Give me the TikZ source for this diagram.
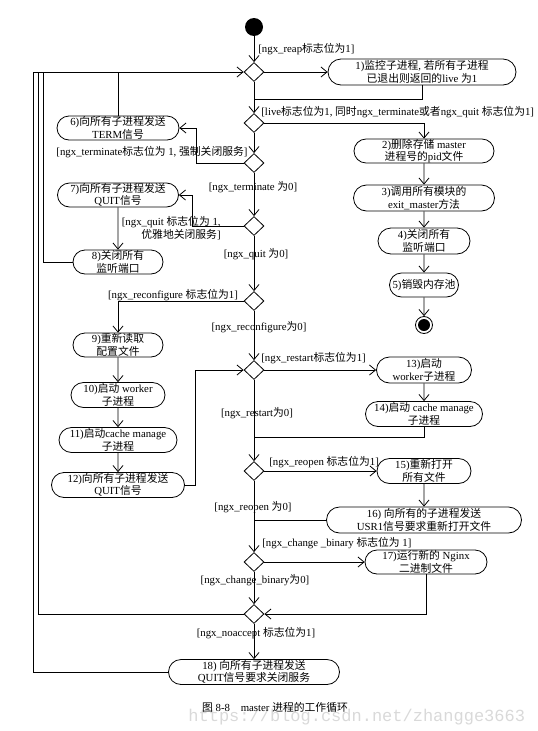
\documentclass[tikz,border=0pt]{standalone}
\usepackage{fontspec}
\setmainfont{Liberation Serif}
\newfontfamily\cjkfont{Noto Sans CJK SC}
\newfontfamily\wmfont{Liberation Mono}
\usetikzlibrary{shapes.misc,shapes.geometric,arrows.meta}
% automatic switch to the CJK font for ideographs
\XeTeXinterchartokenstate=1
\newXeTeXintercharclass\cjkcls
\newcount\ccnt
\ccnt="4E00
\loop\XeTeXcharclass\ccnt=\cjkcls\ifnum\ccnt<"9FFF\advance\ccnt by 1\repeat
\XeTeXinterchartoks 0 \cjkcls = {\cjkfont}
\XeTeXinterchartoks 4095 \cjkcls = {\cjkfont}
\XeTeXinterchartoks \cjkcls 0 = {\rmfamily}
\XeTeXinterchartoks \cjkcls 4095 = {\rmfamily}
\newcommand\fsz{\fontsize{10.8}{12.5}\selectfont}
\tikzset{
  act/.style={draw, rounded rectangle, inner sep=0pt, align=center, font=\fsz},
  dec/.style={draw, diamond, minimum width=20pt, minimum height=19pt, inner sep=0pt},
  lbl/.style={inner sep=0pt, font=\fsz},
  startnode/.style={circle, fill=black, minimum size=18pt, inner sep=0pt},
  endnode/.style={circle, draw, minimum size=17pt, inner sep=0pt,
    path picture={\fill (path picture bounding box.center) circle (6pt);}},
}
\begin{document}
\begin{tikzpicture}[x=1pt,y=-1pt, line width=0.8pt, >={Straight Barb[length=6pt,width=10pt]}]
\useasboundingbox (0,0) rectangle (538,731);
% main column
\node[startnode] (start) at (254,27) {};
\node[dec] (d1) at (254,72) {};
\node[dec] (d2) at (254,123) {};
\node[dec] (d3) at (254,163) {};
\node[dec] (d4) at (254,226) {};
\node[dec] (d5) at (254,301) {};
\node[dec] (d6) at (254,370) {};
\node[dec] (d7) at (254,471) {};
\node[dec] (d8) at (254,562) {};
\node[dec] (d9) at (254,614) {};
% right column
\node[act, minimum width=188pt, minimum height=26pt] (b1) at (422,72) {1)监控子进程, 若所有子进程\\已退出则返回的live 为1};
\node[act, minimum width=140pt, minimum height=23pt] (b2) at (424,151) {2)删除存储 master\\进程号的pid文件};
\node[act, minimum width=141pt, minimum height=26pt] (b3) at (424,198) {3)调用所有模块的\\exit\_master方法};
\node[act, minimum width=92pt, minimum height=26pt] (b4) at (424,241) {4)关闭所有\\监听端口};
\node[act, minimum width=69pt, minimum height=24pt] (b5) at (424,285) {5)销毁内存池};
\node[endnode] (end) at (424,325) {};
% left column
\node[act, minimum width=122pt, minimum height=24pt] (b6) at (118,128) {6)向所有子进程发送\\TERM信号};
\node[act, minimum width=121pt, minimum height=24pt] (b7) at (118,195) {7)向所有子进程发送\\QUIT信号};
\node[act, minimum width=90pt, minimum height=24pt] (b8) at (118,262) {8)关闭所有\\监听端口};
\node[act, minimum width=90pt, minimum height=24pt] (b9) at (118,345) {9)重新读取\\配置文件};
\node[act, minimum width=94pt, minimum height=25pt] (b10) at (118,395) {10)启动 worker\\子进程};
\node[act, minimum width=118pt, minimum height=25pt] (b11) at (118,440) {11)启动cache manage\\子进程};
\node[act, minimum width=133pt, minimum height=25pt] (b12) at (118,485) {12)向所有子进程发送\\QUIT信号};
% lower right
\node[act, minimum width=95pt, minimum height=26pt] (b13) at (424,370) {13)启动\\worker子进程};
\node[act, minimum width=117pt, minimum height=25pt] (b14) at (424,414) {14)启动 cache manage\\子进程};
\node[act, minimum width=94pt, minimum height=25pt] (b15) at (424,471) {15)重新打开\\所有文件};
\node[act, minimum width=195pt, minimum height=26pt] (b16) at (424,520) {16) 向所有的子进程发送\\USR1信号要求重新打开文件};
\node[act, minimum width=122pt, minimum height=24pt] (b17) at (426,562) {17)运行新的 Nginx\\二进制文件};
\node[act, minimum width=171pt, minimum height=25pt] (b18) at (254,672) {18) 向所有子进程发送\\QUIT信号要求关闭服务};
% junction coordinates
\coordinate (j1) at (254,99);
\coordinate (j2) at (254,437);
\coordinate (j3) at (254,520);
\coordinate (lo) at (33,72);
\coordinate (lm) at (38,72);
\coordinate (li) at (43,72);
% labels
\node[lbl, anchor=west] (l1) at (258,49) {[ngx\_reap标志位为1]};
\node[lbl, anchor=west] (l2) at (261,112) {[live标志位为1, 同时ngx\_terminate或者ngx\_quit 标志位为1]};
\node[lbl] (l3) at (152,152) {[ngx\_terminate标志位为 1, 强制关闭服务]};
\node[lbl] (l4) at (253,187) {[ngx\_terminate 为0]};
\node[lbl, anchor=east, align=right] (l5) at (221,228) {[ngx\_quit 标志位为 1,\\优雅地关闭服务]};
\node[lbl] (l6) at (256,254) {[ngx\_quit 为0]};
\node[lbl] (l7) at (173,295) {[ngx\_reconfigure 标志位为1]};
\node[lbl] (l8) at (259,327) {[ngx\_reconfigure为0]};
\node[lbl, anchor=west] (l9) at (261,358) {[ngx\_restart标志位为1]};
\node[lbl] (l10) at (257,413) {[ngx\_restart为0]};
\node[lbl, anchor=west] (l11) at (269,462) {[ngx\_reopen 标志位为1]};
\node[lbl] (l12) at (253,507) {[ngx\_reopen 为0]};
\node[lbl, anchor=west] (l13) at (262,543) {[ngx\_change \_binary 标志位为 1]};
\node[lbl] (l14) at (255,580) {[ngx\_change\_binary为0]};
\node[lbl] (l15) at (256,633) {[ngx\_noaccept 标志位为1]};
% watermark and caption
\node[inner sep=0pt, anchor=west, text=gray!30, font=\wmfont\fontsize{17}{17}\selectfont] (wm) at (188,717) {https://blog.csdn.net/zhangge3663};
\node[inner sep=0pt, font=\fsz] (cap) at (275,707) {图 8-8\quad master 进程的工作循环};
% connectors
\draw[->] (start) -- (d1);
\draw[->] (d1) -- (b1);
\draw (b1.south) |- (j1);
\draw[->] (d1) -- (d2);
\draw[->] (d2.east) -| (b2.north);
\draw[->] (b2) -- (b3);
\draw[->] (b3) -- (b4);
\draw[->] (b4) -- (b5);
\draw[->] (b5) -- (end);
\draw[->] (d2) -- (d3);
\draw[->] (d3.west) -- ++(-47,0) |- (b6.east);
\draw (b6.north) -- (b6.north |- d1);
\draw[->] (d3) -- (d4);
\draw[->] (d4.west) -- ++(-51,0) |- (b7.east);
\draw[->] (b7) -- (b8);
\draw (b8.west) -| (li);
\draw[->] (d4) -- (d5);
\draw[->] (d5.west) -| (b9.north);
\draw[->] (b9) -- (b10);
\draw[->] (b10) -- (b11);
\draw[->] (b11) -- (b12);
\draw[->] (b12.east) -- ++(10,0) |- (d6.west);
\draw[->] (d5) -- (d6);
\draw[->] (d6) -- (b13);
\draw[->] (b13) -- (b14);
\draw (b14.south) |- (j2);
\draw[->] (d6) -- (d7);
\draw[->] (d7) -- (b15);
\draw[->] (b15) -- (b16);
\draw (b16.west) -- (j3);
\draw[->] (d7) -- (d8);
\draw[->] (d8) -- (b17);
\draw[->] (b17.south) |- (d9.east);
\draw[->] (d8) -- (d9);
\draw[->] (d9) -- (b18);
\draw (d9.west) -| (lm);
\draw[->] (b18.west) -| (lo) -- (d1.west);
\end{tikzpicture}
\end{document}
